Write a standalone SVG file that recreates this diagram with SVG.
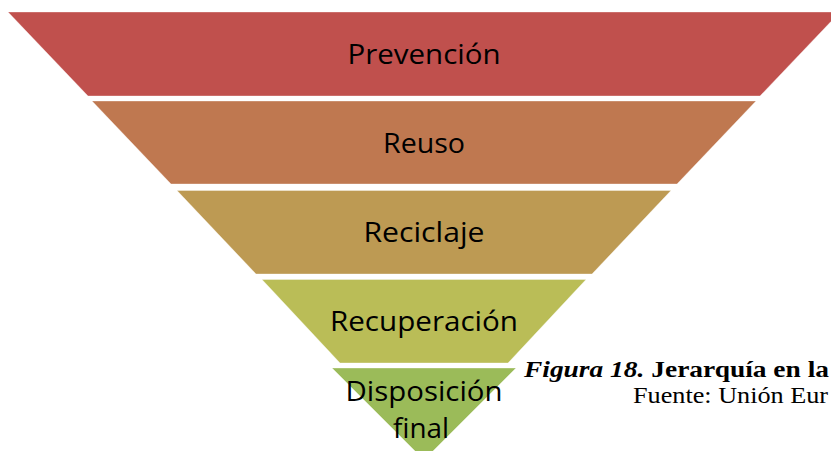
<svg xmlns="http://www.w3.org/2000/svg" width="831" height="451" viewBox="0 0 831 451">
<style>
.band{stroke:#ffffff;stroke-opacity:0.35;stroke-width:1}
.lbl{font-family:"Open Sans","DejaVu Sans",sans-serif;font-size:28px;fill:#000;text-anchor:middle}
.cap{font-family:"Liberation Serif","Times New Roman",serif;font-size:24px;fill:#000}
</style>
<rect width="831" height="451" fill="#ffffff"/>
<g id="prevencion">
<polygon class="band" fill="#C0504D" points="8,12 840,12 760,96 88,96"/>
<text class="lbl" x="424" y="64" textLength="153" lengthAdjust="spacingAndGlyphs">Prevención</text>
</g>
<g id="reuso">
<polygon class="band" fill="#BF7850" points="92,101 756,101 677,184 171,184"/>
<text class="lbl" x="424" y="153" textLength="82" lengthAdjust="spacingAndGlyphs">Reuso</text>
</g>
<g id="reciclaje">
<polygon class="band" fill="#BD9A53" points="177,190.5 671,190.5 592,274 256,274"/>
<text class="lbl" x="424" y="242" textLength="121" lengthAdjust="spacingAndGlyphs">Reciclaje</text>
</g>
<g id="recuperacion">
<polygon class="band" fill="#BABD57" points="262,279.5 586,279.5 508,363 340,363"/>
<text class="lbl" x="424" y="331" textLength="188" lengthAdjust="spacingAndGlyphs">Recuperación</text>
</g>
<g id="disposicion">
<polygon class="band" fill="#9BBB59" points="332,368 516,368 424,460"/>
<text class="lbl" x="424" y="401" textLength="157" lengthAdjust="spacingAndGlyphs">Disposición</text>
<text class="lbl" x="421" y="438" textLength="56" lengthAdjust="spacingAndGlyphs">final</text>
</g>
<g id="caption">
<text class="cap" x="524" y="377" textLength="305" lengthAdjust="spacingAndGlyphs"><tspan font-weight="bold" font-style="italic">Figura 18.</tspan><tspan font-weight="bold"> Jerarquía en la</tspan></text>
<text class="cap" x="633" y="403" textLength="195" lengthAdjust="spacingAndGlyphs">Fuente: Unión Eur</text>
</g>
</svg>
